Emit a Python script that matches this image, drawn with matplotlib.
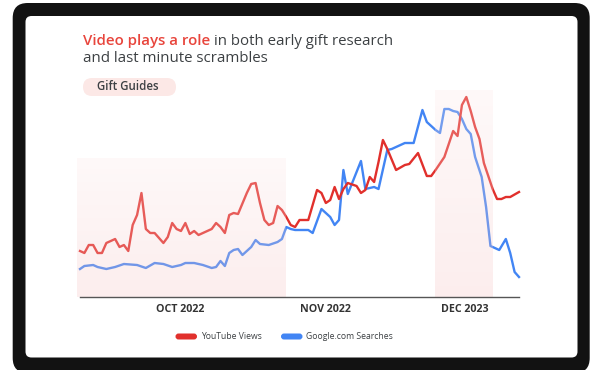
import numpy as np
import matplotlib.pyplot as plt
from matplotlib.patches import FancyBboxPatch

# weekly index (0..100) and search-interest values
yt_days = [0, 1, 2, 3, 4, 5, 6, 8, 9, 10, 11, 12, 13, 14, 15, 16, 17, 19, 20, 21,
           22, 23, 24, 25, 26, 27, 28, 30, 31, 32, 33, 34, 35, 36, 38, 39, 40, 41,
           42, 43, 44, 45, 46, 47, 48, 49, 50, 52, 54, 55, 56, 57, 58, 59, 60, 61,
           63, 64, 65, 66, 67, 68, 69, 70, 72, 74, 75, 77, 79, 80, 81, 83, 85, 86,
           87, 88, 89, 90, 91, 92, 94, 95, 96, 97, 98, 100]
yt_views = [23, 22, 26, 26, 22, 22, 27, 29, 25, 26, 23, 36, 41, 52, 34, 32, 32, 27, 30, 37,
            34, 33, 37, 31.5, 33, 31, 32, 34, 37, 35, 32, 41, 42, 41.5, 52, 56.5, 57, 47,
            38.5, 36, 37, 45.5, 43.5, 40, 36, 35, 38.5, 38.5, 53.5, 52, 47, 48.5, 55, 49, 54, 57,
            55.5, 52, 53.5, 60, 57.5, 67.5, 78.5, 74, 63.5, 66, 66.5, 72, 60.5, 60.5, 63.5, 70, 83, 80.5,
            96, 100, 93, 85, 79, 67, 54, 49, 49, 50, 50, 52.5]

g_days = [0, 1, 3, 4, 6, 8, 10, 13, 15, 17, 19, 21, 23, 24, 26, 28, 30, 31, 32, 33,
          34, 35, 36, 37, 39, 40, 41, 43, 45, 46, 47, 48, 49, 52, 53, 55, 57, 58, 59,
          60, 61, 64, 65, 67, 68, 70, 71, 73, 74, 76, 78, 79, 81, 82, 83, 84, 85, 86,
          87, 88, 89, 90, 91.5, 92.5, 93.5, 95.5, 97, 98, 99, 100]
google_searches = [14, 15.5, 16, 15, 14, 15, 16.5, 16, 14.5, 17, 16.5, 15, 16, 17, 17, 16, 14.5, 15, 18, 15.5,
                   22, 23.5, 24, 21, 25, 28.5, 26.5, 26, 27.5, 29, 35, 34, 33.5, 33.5, 32, 44, 40, 36, 38.5,
                   63.5, 51.5, 68, 54, 55, 54, 73.5, 74, 76, 77, 77, 93.5, 87.5, 83.5, 82, 94, 94, 93, 92.5,
                   89, 84, 81.5, 70, 60, 45, 25.5, 23.5, 29, 22, 12.5, 10]

tick_days = [22.8, 55.8, 87.7]
tick_labels = ['OCT 2022', 'NOV 2022', 'DEC 2023']

# highlighted periods: start, end, top
periods = [(-0.7, 46.7, 69.5), (80.9, 94.1, 103.5)]

RED = '#e1302c'
BLUE = '#4285f4'
DARK = '#3c4043'
W, H = 590, 370

plt.rcParams['font.family'] = ['Open Sans', 'DejaVu Sans']
fig = plt.figure(figsize=(W / 100, H / 100), dpi=100)
fig.patch.set_facecolor('white')

# device frame
fig.add_artist(FancyBboxPatch((12.7, H - 373), 577, 370, boxstyle='round,pad=0,rounding_size=15',
                              transform=None, fc='#121212', ec='none', zorder=0))
fig.add_artist(FancyBboxPatch((25.5, H - 357.5), 552, 341.5, boxstyle='round,pad=0,rounding_size=6',
                              transform=None, fc='white', ec='none', zorder=0))

ax = fig.add_axes([76 / W, (H - 297) / H, (522 - 76) / W, (297 - 90) / H])
ax.set_facecolor('none')

ax.plot(g_days, google_searches, color=BLUE, lw=1.7, zorder=2, solid_joinstyle='round')
ax.plot(yt_days, yt_views, color=RED, lw=1.7, zorder=2, solid_joinstyle='round')

bottom = np.array([244, 190, 190]) / 255
top = np.array([253, 232, 232]) / 255
for x0, x1, ytop in periods:
    t = np.linspace(0, 1, 100)[:, None]
    rgb = bottom * (1 - t) + top * t
    img = np.concatenate([rgb, np.full((100, 1), 0.27)], axis=1)[:, None, :]
    ax.imshow(img, extent=(x0, x1, 0, ytop), origin='lower', aspect='auto', zorder=3,
              interpolation='bilinear')

ax.set_xlim((76 - 80) / 4.39, (522 - 80) / 4.39)
ax.set_ylim(0, (297 - 90) / 2)
for s in ['top', 'right', 'left']:
    ax.spines[s].set_visible(False)
ax.spines['bottom'].set_bounds(0, 100)
ax.spines['bottom'].set_color('#555555')
ax.spines['bottom'].set_linewidth(1)
ax.spines['bottom'].set_zorder(4)
ax.set_yticks([])
ax.set_xticks(tick_days)
ax.set_xticklabels(tick_labels, fontsize=7.7, fontweight='bold', color='#333333')
ax.tick_params(axis='x', length=0, pad=5)

# title
r = fig.canvas.get_renderer()
t1 = fig.text(83, H - 45, 'Video plays a role', transform=None, fontsize=10.8,
              fontweight='semibold', color='#e8453c', va='baseline')
x_end = t1.get_window_extent(r).x1
fig.text(x_end + 4, H - 45, 'in both early gift research', transform=None, fontsize=10.8,
         color=DARK, va='baseline')
fig.text(83, H - 62, 'and last minute scrambles', transform=None, fontsize=10.8,
         color=DARK, va='baseline')

# chip
fig.add_artist(FancyBboxPatch((83, H - 96), 93, 18, boxstyle='round,pad=0,rounding_size=9',
                              transform=None, fc='#fce8e6', ec='none'))
fig.text(97, H - 87, 'Gift Guides', transform=None, fontsize=8.3, fontweight='semibold',
         color=DARK, va='center')

# legend
for x0, col, lab in [(175.5, RED, 'YouTube Views'), (281, BLUE, 'Google.com Searches')]:
    fig.add_artist(FancyBboxPatch((x0, H - 339.5), 21.5, 6, boxstyle='round,pad=0,rounding_size=3',
                                  transform=None, fc=col, ec='none'))
    fig.text(x0 + 25.5, H - 336.5, lab, transform=None, fontsize=6.2, color=DARK, va='center')

fig.savefig('out.png', dpi=100)
